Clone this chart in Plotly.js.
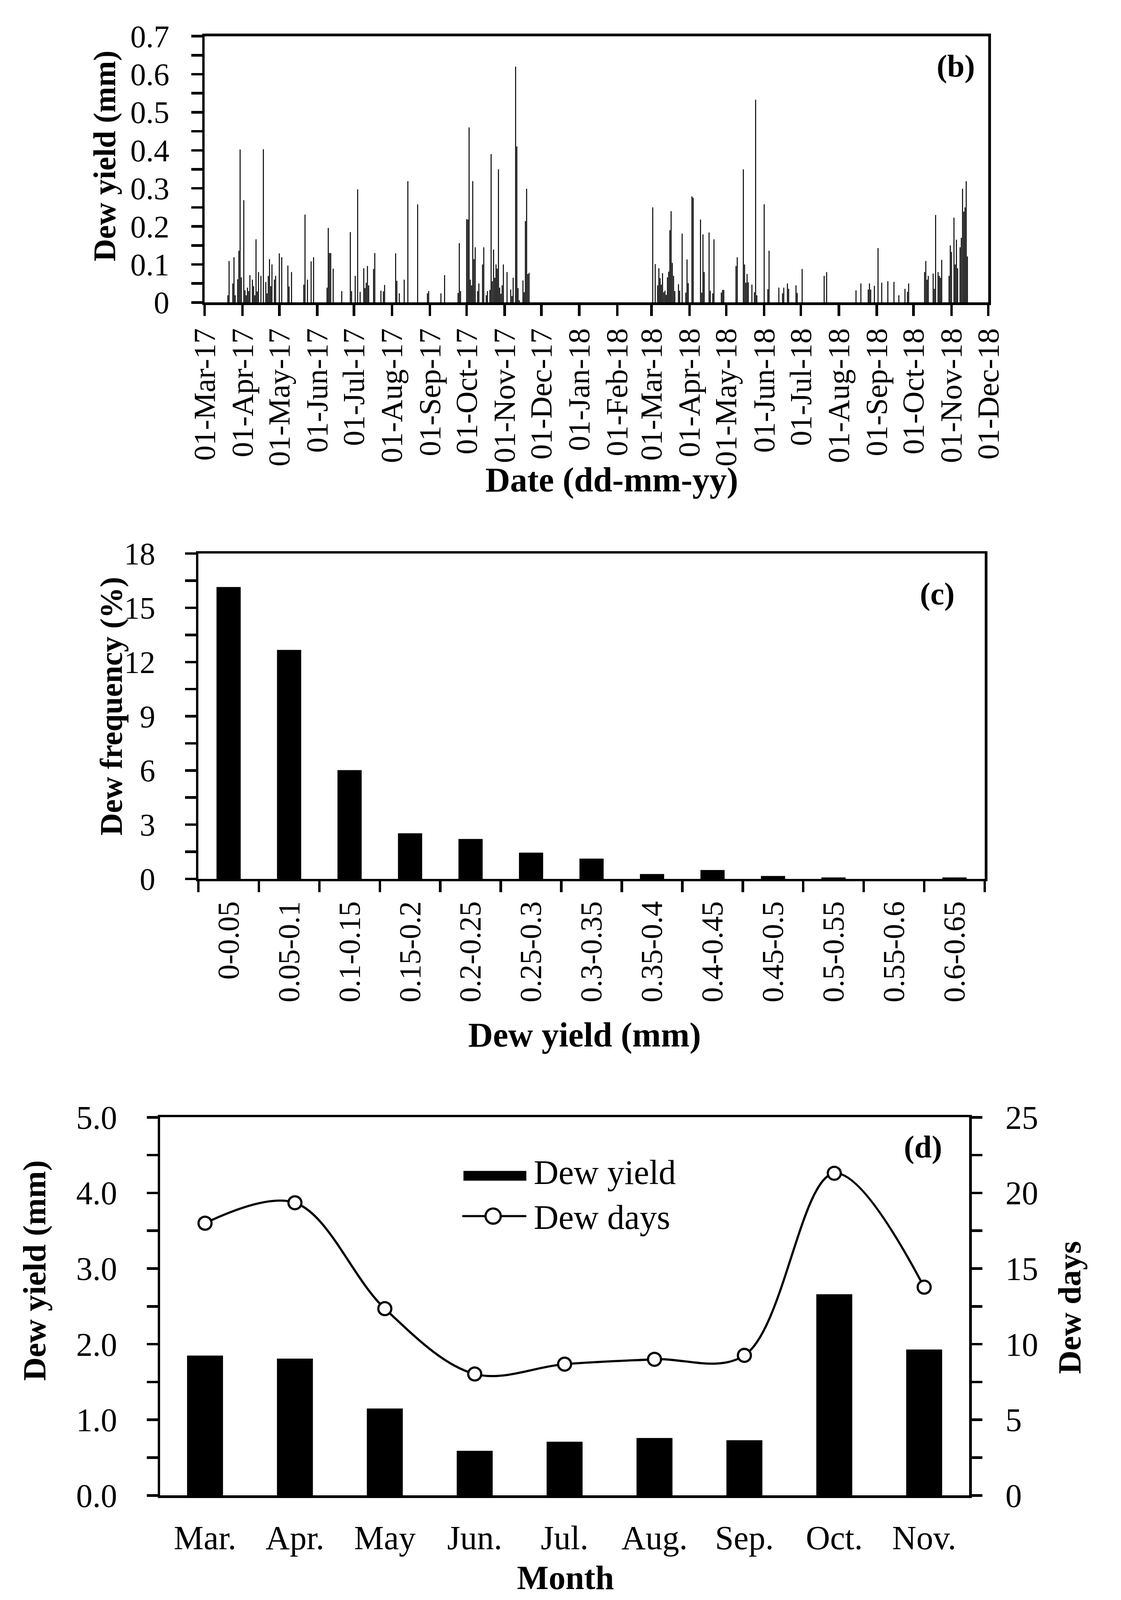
<!DOCTYPE html>
<html>
<head>
<meta charset="utf-8">
<script src="https://cdn.plot.ly/plotly-3.0.1.min.js"></script>
<style>html,body{margin:0;padding:0;background:#fff;overflow:hidden;}#chart{width:100vw;height:100vh;}</style>
</head>
<body>
<div id="chart"></div>
<script>
// ---------- Panel (b): daily dew yield ----------
const seriesStartDate = '2017-03-01';
const daysSinceStart = [
  19,20,23,24,25,27,28,29,30,32,33,34,35,36,37,39,40,41,42,43,44,46,48,50,51,52,53,54,55,57,58,61,63,68,69,71,
  81,82,84,87,89,100,101,102,103,105,112,119,120,123,125,127,130,131,132,133,134,138,139,144,146,147,
  156,157,159,163,166,174,182,183,193,196,207,208,209,214,215,216,217,218,219,220,221,223,224,227,228,
  230,231,233,234,235,236,237,238,239,240,241,242,243,244,247,250,251,252,254,255,256,257,260,261,262,263,264,265,
  366,368,370,371,372,373,374,375,376,377,378,379,380,381,382,383,384,387,388,390,393,394,395,398,399,
  405,406,407,408,412,413,415,416,422,423,424,434,435,440,441,442,443,444,447,449,450,451,457,460,461,
  469,472,473,476,477,483,484,488,506,508,532,536,542,543,544,547,550,553,558,563,567,572,574,575,
  588,589,590,591,595,596,597,599,600,601,602,608,609,610,612,613,614,615,617,618,619,620,621,622,623
];
const dailyDewYield = [
  0.019,0.109,0.050,0.119,0.019,0.061,0.136,0.402,0.066,0.269,0.032,0.019,0.039,0.030,0.072,0.060,0.043,0.019,0.166,0.029,0.080,0.070,0.403,0.054,0.024,0.070,0.114,0.043,0.100,0.060,0.070,0.129,0.119,0.097,0.042,0.080,
  0.047,0.231,0.060,0.108,0.119,0.039,0.196,0.130,0.130,0.089,0.030,0.185,0.030,0.070,0.297,0.028,0.090,0.038,0.052,0.096,0.045,0.088,0.130,0.031,0.029,0.046,
  0.129,0.057,0.024,0.060,0.319,0.258,0.024,0.030,0.024,0.072,0.025,0.156,0.030,0.219,0.218,0.460,0.060,0.045,0.319,0.114,0.145,0.030,0.050,0.100,0.145,
  0.019,0.030,0.033,0.390,0.056,0.139,0.065,0.100,0.089,0.350,0.039,0.023,0.045,0.100,0.080,0.034,0.017,0.065,0.620,0.410,0.038,0.006,0.058,0.027,0.214,0.299,0.075,0.078,
  0.250,0.101,0.045,0.090,0.064,0.047,0.077,0.027,0.031,0.020,0.066,0.081,0.190,0.240,0.104,0.070,0.030,0.048,0.031,0.181,0.026,0.113,0.051,0.279,0.275,
  0.218,0.026,0.179,0.080,0.184,0.031,0.024,0.166,0.026,0.033,0.033,0.096,0.119,0.350,0.100,0.052,0.075,0.053,0.047,0.027,0.533,0.019,0.258,0.035,0.136,
  0.039,0.024,0.039,0.050,0.036,0.045,0.025,0.088,0.070,0.080,0.032,0.050,0.034,0.050,0.034,0.044,0.143,0.052,0.056,0.054,0.019,0.036,0.028,0.050,
  0.080,0.109,0.060,0.070,0.076,0.036,0.230,0.080,0.070,0.065,0.112,0.070,0.150,0.133,0.223,0.100,0.165,0.090,0.145,0.170,0.299,0.239,0.250,0.319,0.121
];
const dateTickValues = [
  '2017-03-01','2017-04-01','2017-05-01','2017-06-01','2017-07-01','2017-08-01','2017-09-01','2017-10-01','2017-11-01','2017-12-01',
  '2018-01-01','2018-02-01','2018-03-01','2018-04-01','2018-05-01','2018-06-01','2018-07-01','2018-08-01','2018-09-01','2018-10-01','2018-11-01','2018-12-01'
];

// ---------- Panel (c): dew frequency by yield class ----------
const yieldClasses = ['0-0.05','0.05-0.1','0.1-0.15','0.15-0.2','0.2-0.25','0.25-0.3','0.3-0.35','0.35-0.4','0.4-0.45','0.45-0.5','0.5-0.55','0.55-0.6','0.6-0.65'];
const dewFrequency = [16.15,12.67,6.02,2.52,2.21,1.45,1.12,0.27,0.49,0.16,0.08,0,0.08];

// ---------- Panel (d): monthly dew yield and dew days ----------
const months = ['Mar.','Apr.','May','Jun.','Jul.','Aug.','Sep.','Oct.','Nov.'];
const monthlyDewYield = [1.85,1.81,1.15,0.59,0.71,0.76,0.73,2.66,1.93];
const monthlyDewDays = [18.0,19.35,12.35,8.03,8.68,9.0,9.26,21.3,13.77];

// ---------- build ----------
const DW = 2871, DH = 4422;                       // design size (reference)
const W = window.innerWidth || DW, H = window.innerHeight || DH;
const k = Math.min(W / DW, H / DH);               // scale for vertical pixel quantities
const kh = 1;                                     // scale for horizontal text
const s = v => Math.round(v * k * 10) / 10;
const px = v => v / DW;
const py = v => 1 - v / DH;
const FONT = 'Liberation Serif, Times New Roman, serif';
const startMs = Date.parse(seriesStartDate + 'T00:00:00Z');
const dailyDates = daysSinceStart.map(d => new Date(startMs + d * 86400000).toISOString().slice(0, 10));
const monthBoundaries = months.map((m, i) => i - 0.5).concat([months.length - 0.5]);

const tf = (size, f) => ({family: FONT, size: Math.round(size * (f || k) * 10) / 10, color: '#000'});
const minorTicks = dt => ({dtick: dt, ticks: 'outside', ticklen: s(30), tickwidth: s(7), tickcolor: '#000', showgrid: false});
const axisBase = {
  showline: true, linecolor: '#000', linewidth: s(7), mirror: true,
  ticks: 'outside', ticklen: s(30), tickwidth: s(7), tickcolor: '#000',
  showgrid: false, zeroline: false, fixedrange: true, tickfont: tf(80)
};

const traces = [
  {type: 'bar', x: dailyDates, y: dailyDewYield, xaxis: 'x', yaxis: 'y',
   width: 0.8 * 86400000, marker: {color: '#000', line: {width: 0}}, showlegend: false},
  {type: 'bar', x: yieldClasses, y: dewFrequency, xaxis: 'x2', yaxis: 'y2',
   width: 0.4, marker: {color: '#000', line: {width: 0}}, showlegend: false},
  {type: 'bar', x: months, y: monthlyDewYield, xaxis: 'x3', yaxis: 'y3', name: 'Dew yield',
   width: 0.4, marker: {color: '#000', line: {width: 0}}, showlegend: false},
  {type: 'scatter', mode: 'lines+markers', x: months, y: monthlyDewDays, xaxis: 'x3', yaxis: 'y4', name: 'Dew days',
   line: {color: '#000', width: s(6), shape: 'spline', smoothing: 1}, cliponaxis: false,
   marker: {symbol: 'circle', size: s(36), color: '#fff', line: {color: '#000', width: s(6)}}, showlegend: false}
];

const ann = (text, x, y, size, opts, f) => Object.assign({
  text, x: px(x), y: py(y), xref: 'paper', yref: 'paper', showarrow: false,
  xanchor: 'center', yanchor: 'middle', font: tf(size, f)
}, opts || {});

const layout = {
  width: W, height: H, margin: {l: 0, r: 0, t: 0, b: 0},
  paper_bgcolor: '#fff', plot_bgcolor: '#fff', showlegend: false,
  font: {family: FONT, color: '#000'},
  // panel (b)
  xaxis: Object.assign({}, axisBase, {
    domain: [px(524), px(2531)], anchor: 'y', type: 'date',
    range: ['2017-03-01', '2018-12-01'], tickmode: 'array', tickvals: dateTickValues,
    tickformat: '%d-%b-%y', tickangle: -90, tickfont: tf(85)
  }),
  yaxis: Object.assign({}, axisBase, {
    domain: [py(836), py(100)], anchor: 'x', range: [0, 0.7], dtick: 0.1, tick0: 0,
    minor: minorTicks(0.05), ticksuffix: '\u2002', tickfont: tf(80, kh)
  }),
  // panel (c)
  xaxis2: Object.assign({}, axisBase, {
    domain: [px(508), px(2522)], anchor: 'y2', type: 'category', range: [-0.5, 12.5],
    tickson: 'boundaries', tickangle: -90, ticksuffix: '\u2005', tickfont: tf(84)
  }),
  yaxis2: Object.assign({}, axisBase, {
    domain: [py(2429), py(1530)], anchor: 'x2', range: [0, 18], dtick: 3, tick0: 0,
    minor: minorTicks(1.5), ticksuffix: '\u2002\u2005', tickfont: tf(80, kh)
  }),
  // panel (d): labels axis (transparent ticks push labels down) + boundary-tick axis
  xaxis3: Object.assign({}, axisBase, {
    domain: [px(410), px(2482)], anchor: 'y3', type: 'category', range: [-0.5, 8.5],
    tickangle: 0, ticklen: s(30), tickcolor: 'rgba(0,0,0,0)', tickfont: tf(86, kh)
  }),
  xaxis4: {
    overlaying: 'x3', anchor: 'y3', side: 'bottom', type: 'linear', range: [-0.5, 8.5],
    tickmode: 'array', tickvals: monthBoundaries, showticklabels: false,
    ticks: 'outside', ticklen: s(30), tickwidth: s(7), tickcolor: '#000',
    showline: false, showgrid: false, zeroline: false, fixedrange: true
  },
  yaxis3: Object.assign({}, axisBase, {
    domain: [py(4133), py(3088)], anchor: 'x3', range: [0, 5], dtick: 1, tick0: 0, tickformat: '.1f',
    minor: minorTicks(0.5), ticksuffix: '\u2002\u2009', tickfont: tf(84, kh)
  }),
  yaxis4: Object.assign({}, axisBase, {
    overlaying: 'y3', anchor: 'x3', side: 'right', range: [0, 25], dtick: 5, tick0: 0, mirror: false,
    minor: minorTicks(2.5), tickprefix: '\u2002', tickfont: tf(84, kh)
  }),
  annotations: [
    ann('<b>Dew yield (mm)</b>', 268, 431, 86, {textangle: -90}),
    ann('<b>Date (dd-mm-yy)</b>', 1567, 1326, 88, null, kh),
    ann('<b>(b)</b>', 2448, 183, 80, null, kh),
    ann('<b>Dew frequency (%)</b>', 285, 1952, 86, {textangle: -90}),
    ann('<b>Dew yield (mm)</b>', 1497, 2860, 88, null, kh),
    ann('<b>(c)</b>', 2400, 1642, 80, null, kh),
    ann('<b>Dew yield (mm)</b>', 88, 3512, 90, {textangle: -90}),
    ann('<b>Dew days</b>', 2739, 3614, 90, {textangle: -90}),
    ann('<b>Month</b>', 1448, 4360, 86, null, kh),
    ann('<b>(d)</b>', 2364, 3170, 80, null, kh),
    ann('Dew yield', 1365, 3240, 88, {xanchor: 'left'}, kh),
    ann('Dew days', 1365, 3365, 88, {xanchor: 'left'}, kh)
  ],
  shapes: [
    {type: 'rect', xref: 'paper', yref: 'paper', x0: px(1187), x1: px(1348), y0: py(3263), y1: py(3236),
     fillcolor: '#000', line: {width: 0}},
    {type: 'line', xref: 'paper', yref: 'paper', x0: px(1184), x1: px(1348), y0: py(3361), y1: py(3361),
     line: {color: '#000', width: s(6)}},
    {type: 'circle', xref: 'paper', yref: 'paper', x0: px(1263 - 21 * k), x1: px(1263 + 21 * k),
     y0: py(3361) - 21 * k / H, y1: py(3361) + 21 * k / H,
     fillcolor: '#fff', line: {color: '#000', width: s(6)}}
  ]
};

Plotly.newPlot('chart', traces, layout, {staticPlot: true, displayModeBar: false});
</script>
</body>
</html>
